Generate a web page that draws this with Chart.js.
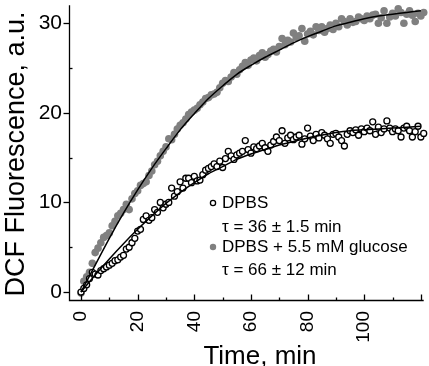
<!DOCTYPE html>
<html><head><meta charset="utf-8">
<script src="https://cdn.jsdelivr.net/npm/chart.js@4.4.1/dist/chart.umd.min.js"></script>
<style>html,body{margin:0;padding:0;background:#fff;overflow:hidden}#wrap{width:429px;height:366px;position:relative}</style>
</head><body><div id="wrap"><canvas id="c" width="429" height="366"></canvas></div>
<script>
// ---- data ----
const timeMin = [0,1,2,3,4,5,6,7,8,9,10,11,12,13,14,15,16,17,18,19,20,21,22,23,24,25,26,27,28,29,30,31,32,33,34,35,36,37,38,39,40,41,42,43,44,45,46,47,48,49,50,51,52,53,54,55,56,57,58,59,60,61,62,63,64,65,66,67,68,69,70,71,72,73,74,75,76,77,78,79,80,81,82,83,84,85,86,87,88,89,90,91,92,93,94,95,96,97,98,99,100,101,102,103,104,105,106,107,108,109,110,111,112,113,114,115,116,117,118,119,120,121];
const dpbs = [0.0,0.4,0.8,1.5,2.2,2.0,1.9,2.4,2.6,2.8,3.0,3.2,3.5,3.6,3.9,4.1,4.8,5.0,5.5,6.0,6.8,7.0,8.1,8.5,8.0,8.3,9.2,8.9,10.0,9.4,9.8,10.0,11.6,10.7,11.2,12.3,11.6,12.7,12.7,12.2,12.9,12.4,12.5,13.1,13.6,13.8,14.0,14.3,14.0,14.6,13.9,14.9,15.7,15.2,14.8,15.3,15.5,15.7,16.9,15.9,15.5,16.2,16.0,16.3,16.6,16.1,15.7,16.4,16.8,17.3,16.9,18.0,16.6,17.2,17.5,17.0,17.3,17.5,16.5,17.1,18.3,17.4,16.9,17.6,17.2,17.8,17.5,17.1,16.6,17.6,17.7,17.3,16.9,16.3,17.6,18.0,17.8,18.1,17.5,18.2,17.9,18.3,18.0,19.0,17.6,18.4,17.8,18.2,19.1,18.3,17.9,18.2,18.0,17.3,18.3,18.5,18.0,17.3,17.9,18.5,17.3,17.7];
const glucose = [-0.1,1.2,1.7,2.2,3.2,4.4,4.9,5.5,6.1,6.3,6.6,7.4,7.9,8.5,8.8,9.2,9.8,9.2,10.4,11.0,11.3,11.9,12.1,12.3,13.0,13.5,14.2,14.6,15.2,15.7,16.2,17.1,17.0,17.6,18.2,18.6,18.9,19.3,19.8,20.1,20.3,20.5,20.9,21.2,21.6,21.7,22.0,22.1,22.3,22.8,23.3,23.6,23.5,24.0,24.5,24.3,24.8,25.2,25.6,25.3,25.9,26.1,25.8,26.4,26.7,26.2,26.5,26.9,27.1,26.8,27.4,28.3,27.6,28.1,27.9,28.9,28.4,28.6,29.4,28.0,28.8,29.1,28.7,29.6,29.2,29.6,29.0,29.4,29.8,29.3,30.0,29.6,30.5,30.2,29.8,30.5,30.1,30.2,30.7,30.5,30.3,30.8,30.5,30.9,31.0,30.0,30.6,31.4,30.0,30.7,31.1,30.8,31.6,31.2,30.0,31.0,31.4,30.9,30.2,31.1,30.8,31.2];
const fitTime = [0,5,10,15,20,25,30,35,40,45,50,55,60,65,70,75,80,85,90,95,100,105,110,115,120];
const fitDpbs = [0,1.9,3.7,5.4,7.0,8.5,9.9,11.1,12.2,13.2,14.0,14.8,15.4,15.9,16.4,16.8,17.2,17.5,17.8,18.0,18.1,18.2,18.3,18.4,18.5];
const fitGlucose = [0,3.0,6.0,8.8,11.4,13.8,16.0,18.1,19.9,21.6,23.0,24.3,25.3,26.2,27.0,27.8,28.5,29.1,29.7,30.1,30.5,30.8,31.0,31.2,31.4];
const xTickLabels = [0,20,40,60,80,100];
const xTickMarks = [0,10,20,30,40,50,60,70,80,90,100,110,120];
const yTickLabels = [0,10,20,30];
const yMinorTicks = [5,15,25];
const xTitle = 'Time, min';
const yTitle = 'DCF Fluorescence, a.u.';
const legendLines = ['DPBS', '\u03C4 = 36 \u00B1 1.5 min', 'DPBS + 5.5 mM glucose', '\u03C4 = 66 \u00B1 12 min'];

const FONT = '"Liberation Sans", Arial, Helvetica, sans-serif';
const GREY = '#808080';

const zeroPad = s => { s.paddingTop = 0; s.paddingBottom = 0; s.paddingLeft = 0; s.paddingRight = 0; };

const decor = {
  id: 'decor',
  afterDraw(chart) {
    const c = chart.ctx, xs = chart.scales.x, ys = chart.scales.y, a = chart.chartArea;
    c.save();
    c.strokeStyle = '#000'; c.lineWidth = 1.3;
    const x0 = Math.round(a.left) + 0.5, y0 = Math.round(ys.getPixelForValue(-1)) - 0.5;
    c.beginPath();
    c.moveTo(x0, a.top); c.lineTo(x0, y0);
    c.lineTo(xs.getPixelForValue(121), y0);
    c.stroke();
    xTickMarks.forEach(v => {
      const px = Math.round(xs.getPixelForValue(v)) + 0.5;
      const len = (v % 20 === 0) ? 6 : 3;
      c.beginPath(); c.moveTo(px, y0); c.lineTo(px, y0 - len); c.stroke();
    });
    yTickLabels.forEach(v => {
      const py = Math.round(ys.getPixelForValue(v)) + 0.5;
      c.beginPath(); c.moveTo(x0, py); c.lineTo(x0 - 6, py); c.stroke();
    });
    yMinorTicks.forEach(v => {
      const py = Math.round(ys.getPixelForValue(v)) + 0.5;
      c.beginPath(); c.moveTo(x0, py); c.lineTo(x0 + 3, py); c.stroke();
    });
    c.fillStyle = '#000';
    c.font = '26px ' + FONT;
    c.textAlign = 'center'; c.textBaseline = 'alphabetic';
    c.fillText(xTitle, 260, 364);
    c.save();
    c.font = '27px ' + FONT;
    c.translate(24, 154); c.rotate(-Math.PI / 2);
    c.fillText(yTitle, 0, 0);
    c.restore();
    c.font = '17px ' + FONT;
    c.textAlign = 'left'; c.textBaseline = 'middle';
    const lx = 213, tx = 222;
    const ly = [203, 227, 247, 270];
    c.beginPath(); c.arc(lx, ly[0], 2.6, 0, Math.PI * 2);
    c.fillStyle = '#fff'; c.fill(); c.lineWidth = 1.3; c.strokeStyle = '#000'; c.stroke();
    c.beginPath(); c.arc(lx, ly[2], 3.2, 0, Math.PI * 2);
    c.fillStyle = GREY; c.fill();
    c.fillStyle = '#000';
    legendLines.forEach((t, i) => c.fillText(t, tx, ly[i]));
    c.restore();
  }
};

const pts = (xs, ys) => xs.map((t, i) => ({x: t, y: ys[i]}));

new Chart(document.getElementById('c'), {
  type: 'scatter',
  data: { datasets: [
    { label: 'fit DPBS', data: pts(fitTime, fitDpbs), showLine: true, borderColor: '#000', borderWidth: 1.5,
      pointRadius: 0, cubicInterpolationMode: 'monotone', order: 0, clip: false },
    { label: 'fit glucose', data: pts(fitTime, fitGlucose), showLine: true, borderColor: '#000', borderWidth: 1.5,
      pointRadius: 0, cubicInterpolationMode: 'monotone', order: 1, clip: false },
    { label: 'DPBS', data: pts(timeMin, dpbs), showLine: false, pointRadius: 3, pointBorderWidth: 1.3,
      pointBorderColor: '#000', pointBackgroundColor: '#fff', order: 2, clip: false },
    { label: 'DPBS + 5.5 mM glucose', data: pts(timeMin, glucose), showLine: false, pointRadius: 3.8, pointBorderWidth: 0,
      pointBackgroundColor: GREY, pointBorderColor: GREY, order: 3, clip: false }
  ]},
  options: {
    responsive: false, animation: false, devicePixelRatio: 1,
    layout: { padding: { left: 0, top: 2, right: 5, bottom: 0 } },
    plugins: { legend: { display: false }, tooltip: { enabled: false } },
    scales: {
      x: { type: 'linear', min: -4.24, max: 121,
        grid: { display: false, drawTicks: false }, border: { display: false },
        afterBuildTicks: s => { s.ticks = xTickLabels.map(v => ({ value: v })); },
        ticks: { minRotation: 90, maxRotation: 90, autoSkip: false, padding: 10, color: '#000',
          font: { family: FONT, size: 19 } },
        afterFit: s => { s.height = 65; zeroPad(s); } },
      y: { type: 'linear', min: -1, max: 32,
        grid: { display: false, drawTicks: false }, border: { display: false },
        afterBuildTicks: s => { s.ticks = yTickLabels.map(v => ({ value: v })); },
        ticks: { padding: 7, color: '#000', font: { family: FONT, size: 21 } },
        afterFit: s => { s.width = 69; zeroPad(s); } }
    }
  },
  plugins: [decor]
});
</script></body></html>
